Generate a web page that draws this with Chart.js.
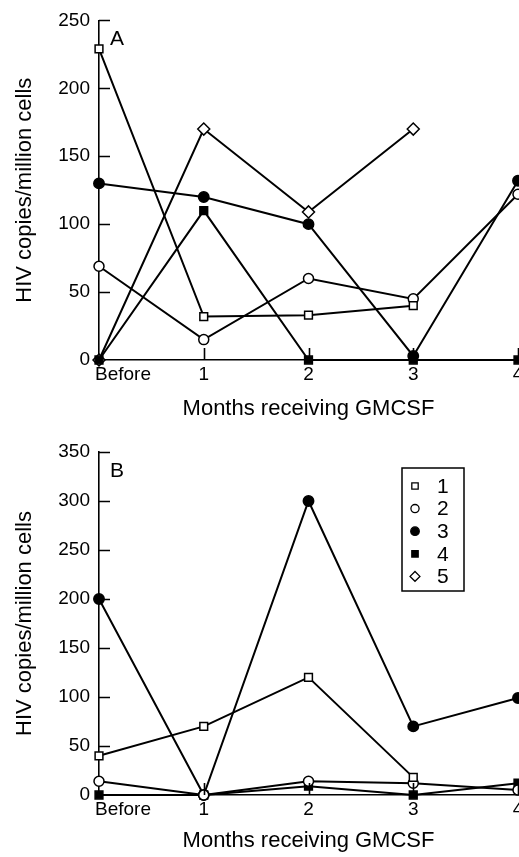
<!DOCTYPE html>
<html>
<head>
<meta charset="utf-8">
<script src="https://cdn.jsdelivr.net/npm/chart.js@4.4.0/dist/chart.umd.min.js"></script>
<style>
  html, body { margin: 0; padding: 0; background: #fff; overflow: hidden; }
  body { width: 519px; height: 857px; position: relative; }
  canvas { position: absolute; left: 0; }
  #chartA { top: 0; }
  #chartB { top: 430px; }
</style>
</head>
<body>
<canvas id="chartA" width="600" height="430"></canvas>
<canvas id="chartB" width="600" height="427"></canvas>
<script>
// values (HIV copies per million cells)
const months = ['Before', '1', '2', '3', '4'];
const patients = ['1', '2', '3', '4', '5'];

// panel A
const a1 = [229, 32, 33, 40, null];
const a2 = [69, 15, 60, 45, 122];
const a3 = [130, 120, 100, 3, 132];
const a4 = [0, 110, 0, 0, 0];
const a5 = [0, 170, 109, 170, null];
const yTicksA = [0, 50, 100, 150, 200, 250];

// panel B
const b1 = [40, 70, 120, 18, null];
const b2 = [14, 0, 14, 12, 5];
const b3 = [200, 0, 300, 70, 99];
const b4 = [0, 0, 9, 0, 12];
const b5 = [null, null, null, null, null];
const yTicksB = [0, 50, 100, 150, 200, 250, 300, 350];

const FONT = '"Liberation Sans", Arial, sans-serif';

// marker per patient: style, fill, radius
const markers = [
  { style: 'rect', fill: '#fff', r: 5.5 },
  { style: 'circle', fill: '#fff', r: 5 },
  { style: 'circle', fill: '#000', r: 5.2 },
  { style: 'rect', fill: '#000', r: 5.5 },
  { style: 'rectRot', fill: '#fff', r: 6 }
];

function makeDatasets(series) {
  return series.map((data, i) => ({
    label: patients[i],
    data: data,
    borderColor: '#000',
    borderWidth: 2,
    pointStyle: markers[i].style,
    pointRadius: markers[i].r,
    pointBackgroundColor: markers[i].fill,
    pointBorderColor: '#000',
    pointBorderWidth: 1.5,
    fill: false,
    tension: 0,
    spanGaps: false,
    clip: false
  }));
}

// inward ticks, x labels, panel letter, boxed legend
const panelDecor = {
  id: 'panelDecor',
  afterDraw(chart, args, opts) {
    const { ctx, chartArea: a, scales: { x, y } } = chart;
    ctx.save();
    ctx.strokeStyle = '#000';
    ctx.lineWidth = 1.6;
    ctx.beginPath();
    y.ticks.forEach(t => {
      if (t.value === 0) return;
      const py = Math.round(y.getPixelForValue(t.value)) + 0.5;
      ctx.moveTo(a.left, py);
      ctx.lineTo(a.left + 11, py);
    });
    months.forEach((m, i) => {
      if (i === 0) return;
      const px = Math.round(x.getPixelForValue(i)) + 0.5;
      ctx.moveTo(px, a.bottom);
      ctx.lineTo(px, a.bottom - 12);
    });
    ctx.stroke();

    ctx.fillStyle = '#000';
    ctx.textBaseline = 'middle';
    ctx.font = '19px ' + FONT;
    months.forEach((m, i) => {
      const px = x.getPixelForValue(i);
      ctx.textAlign = i === 0 ? 'left' : 'center';
      ctx.fillText(m, i === 0 ? px - 4 : px, a.bottom + 15);
    });

    ctx.font = '21px ' + FONT;
    ctx.textAlign = 'left';
    ctx.fillText(opts.letter, a.left + 11, a.top + 19);

    if (opts.legend) {
      const bx = a.left + 303, by = a.top + 16;
      ctx.lineWidth = 1.5;
      ctx.strokeRect(bx, by, 62, 123);
      chart.data.datasets.forEach((ds, i) => {
        const cy = by + 18 + i * 22.6;
        ctx.fillStyle = ds.pointBackgroundColor;
        ctx.strokeStyle = '#000';
        ctx.lineWidth = 1.3;
        Chart.helpers.drawPoint(ctx, {
          pointStyle: ds.pointStyle, radius: ds.pointRadius * 0.82,
          borderWidth: 1.3, rotation: 0
        }, bx + 13, cy);
        ctx.fillStyle = '#000';
        ctx.font = '21px ' + FONT;
        ctx.fillText(ds.label, bx + 35, cy + 1);
      });
    }
    ctx.restore();
  }
};

function makePanel(canvasId, series, yTicks, letter, top, xHeight, titlePad, legend) {
  const ctx = document.getElementById(canvasId).getContext('2d');
  return new Chart(ctx, {
    type: 'line',
    data: { labels: months, datasets: makeDatasets(series) },
    plugins: [panelDecor],
    options: {
      responsive: false,
      animation: false,
      devicePixelRatio: 1,
      layout: { padding: { top: top, right: 82, bottom: 0, left: 0 } },
      plugins: {
        legend: { display: false },
        tooltip: { enabled: false },
        panelDecor: { letter: letter, legend: legend }
      },
      scales: {
        x: {
          type: 'category',
          offset: false,
          grid: { display: false, drawTicks: false },
          border: { display: true, color: '#000', width: 1.6 },
          ticks: { display: false },
          title: {
            display: true, text: 'Months receiving GMCSF', color: '#000',
            font: { family: FONT, size: 22 }, padding: { top: 0, bottom: titlePad }
          },
          afterFit: s => { s.height = xHeight; }
        },
        y: {
          min: 0,
          max: yTicks[yTicks.length - 1],
          grid: { display: false, drawTicks: false },
          border: { display: true, color: '#000', width: 1.6 },
          ticks: { color: '#000', font: { family: FONT, size: 19 }, padding: 9 },
          afterBuildTicks: s => { s.ticks = yTicks.map(v => ({ value: v })); },
          title: {
            display: true, text: 'HIV copies/million cells', color: '#000',
            font: { family: FONT, size: 22 }, padding: { top: 12, bottom: 0 }
          },
          afterFit: s => { s.width = 99; }
        }
      }
    }
  });
}

makePanel('chartA', [a1, a2, a3, a4, a5], yTicksA, 'A', 16, 70, 8, false);
makePanel('chartB', [b1, b2, b3, b4, b5], yTicksB, 'B', 22, 62, 3, true);
</script>
</body>
</html>
